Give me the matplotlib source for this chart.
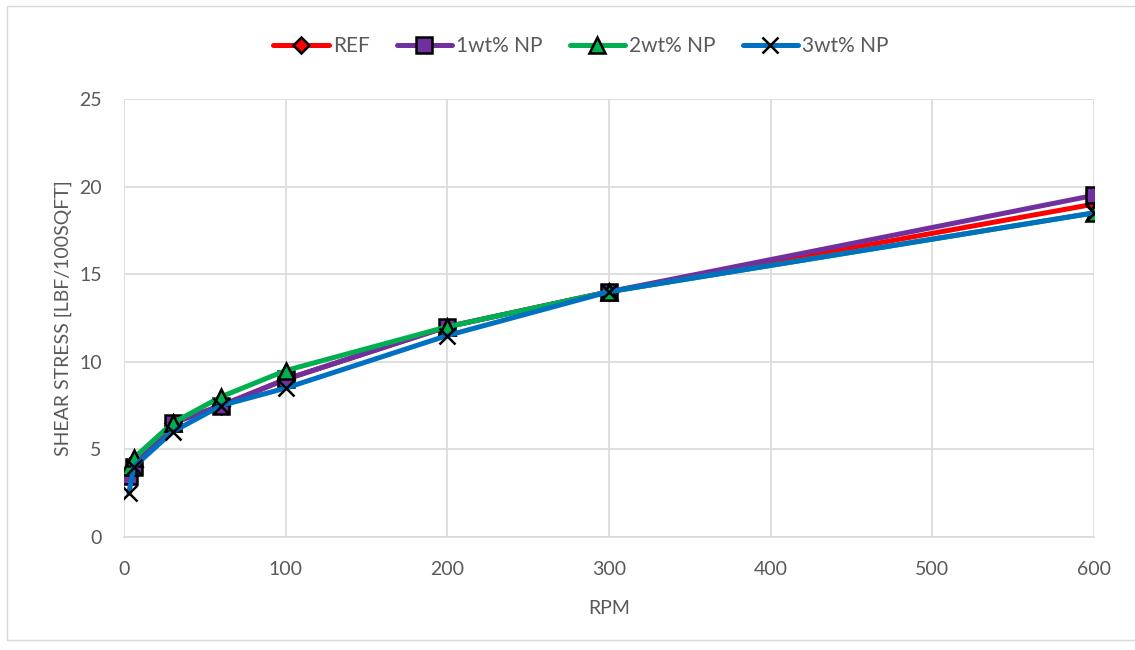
import matplotlib
matplotlib.use("Agg")
import matplotlib.pyplot as plt
from matplotlib.patches import Rectangle

rpm = [3, 6, 30, 60, 100, 200, 300, 600]
series_names = ["REF", "1wt% NP", "2wt% NP", "3wt% NP"]
ref = [3.5, 4.0, 6.5, 7.5, 9.0, 12.0, 14.0, 19.0]
np1 = [3.5, 4.0, 6.5, 7.5, 9.0, 12.0, 14.0, 19.5]
np2 = [4.0, 4.5, 6.5, 8.0, 9.5, 12.0, 14.0, 18.5]
np3 = [2.5, 4.0, 6.0, 7.5, 8.5, 11.5, 14.0, 18.5]
x_ticks = [0, 100, 200, 300, 400, 500, 600]
y_ticks = [0, 5, 10, 15, 20, 25]

plt.rcParams['font.family'] = ['Lato', 'DejaVu Sans']

fig = plt.figure(figsize=(11.35, 6.5), dpi=100)
ax = fig.add_axes([124 / 1135, 1 - 537 / 650, (1094 - 124) / 1135, (537 - 99) / 650])

# outer chart border
fig.patches.append(Rectangle((7 / 1135, 1 - 640 / 650), 1.2, (640 - 6) / 650,
                             transform=fig.transFigure, fill=False,
                             edgecolor="#d9d9d9", linewidth=1.0))

styles = [
    dict(color="#FF0000", marker="D", mfc="#FF0000", ms=8),
    dict(color="#7030A0", marker="s", mfc="#7030A0", ms=11),
    dict(color="#00B050", marker="^", mfc="#00B050", ms=11),
    dict(color="#0070C0", marker="x", mfc="none", ms=11),
]
for name, vals, st in zip(series_names, [ref, np1, np2, np3], styles):
    ax.plot(rpm, vals, color=st["color"], lw=3.6, marker=st["marker"],
            markersize=st["ms"], markerfacecolor=st["mfc"],
            markeredgecolor="black", markeredgewidth=1.8,
            label=name, solid_capstyle="round", zorder=3)

ax.set_xlim(0, 600)
ax.set_ylim(0, 25)
ax.set_xticks(x_ticks)
ax.set_yticks(y_ticks)
ax.grid(True, color="#d9d9d9", linewidth=1.2, zorder=0)
ax.set_axisbelow(True)
for s in ["top", "right", "left"]:
    ax.spines[s].set_visible(False)
ax.spines["bottom"].set_color("#d9d9d9")
ax.spines["bottom"].set_linewidth(1.2)
ax.tick_params(length=0, labelsize=14, labelcolor="#595959")
ax.tick_params(axis="x", pad=17)
ax.tick_params(axis="y", pad=16)
ax.set_xlabel("RPM", fontsize=14, color="#595959", labelpad=16)
ax.set_ylabel("SHEAR STRESS [LBF/100SQFT]", fontsize=14, color="#595959", labelpad=5)

leg = fig.legend(loc="center left", bbox_to_anchor=(263 / 1135, 1 - 46 / 650), ncol=4,
                 frameon=False, fontsize=15, labelcolor="#595959", borderpad=0,
                 handlelength=2.65, handletextpad=0.2, columnspacing=1.3)

fig.savefig("out.png", dpi=100)
